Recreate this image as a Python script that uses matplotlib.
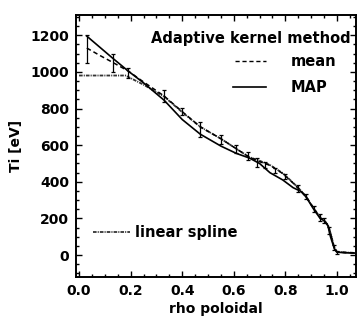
import matplotlib
matplotlib.use("Agg")
import matplotlib.pyplot as plt
from matplotlib.ticker import MultipleLocator

plt.rcParams['font.family'] = ['DejaVu Sans']
plt.rcParams['font.weight'] = 'bold'

# MAP (solid)
rho_map = [0.03, 0.08, 0.13, 0.19, 0.25, 0.33, 0.40, 0.47, 0.55, 0.61, 0.66, 0.70,
           0.74, 0.79, 0.83, 0.86, 0.88, 0.91, 0.935, 0.95, 0.965, 0.975, 0.99, 1.0, 1.03, 1.07]
ti_map = [1195, 1135, 1075, 1005, 940, 845, 740, 660, 595, 555, 530, 500,
          450, 410, 368, 348, 318, 250, 200, 188, 160, 100, 35, 16, 13, 11]

# mean (dashed)
rho_mean = rho_map
ti_mean = [1130, 1090, 1052, 1005, 945, 868, 783, 700, 635, 580, 535, 510,
           490, 445, 393, 350, 320, 255, 205, 190, 165, 120, 40, 18, 14, 12]

# error bars on mean
rho_err = [0.03, 0.13, 0.19, 0.33, 0.40, 0.47, 0.55, 0.61, 0.655, 0.69, 0.72, 0.76,
           0.80, 0.85, 0.88, 0.91, 0.935, 0.95, 0.97, 0.99, 1.0]
ti_err = [1125, 1050, 992, 868, 783, 685, 632, 578, 540, 505, 492, 462,
          430, 362, 320, 252, 206, 190, 135, 40, 16]
err = [75, 50, 28, 33, 18, 40, 23, 23, 20, 25, 14, 14,
       14, 18, 14, 18, 18, 14, 18, 14, 8]

# linear spline
rho_spl = [0.0, 0.18, 0.25, 0.33, 0.40, 0.47, 0.55, 0.61, 0.66, 0.70, 0.74, 0.79,
           0.83, 0.86, 0.88, 0.91, 0.935, 0.95, 0.965, 0.975, 0.99, 1.0, 1.07]
ti_spl = [980, 980, 930, 865, 780, 700, 635, 580, 535, 515, 492, 447,
          395, 352, 320, 255, 205, 190, 165, 120, 40, 18, 12]

xticks = [0.0, 0.2, 0.4, 0.6, 0.8, 1.0]
yticks = [0, 200, 400, 600, 800, 1000, 1200]

fig = plt.figure(figsize=(3.6, 3.2), dpi=100)
ax = fig.add_axes([0.211, 0.134, 0.778, 0.819])

spl_style = (0, (2, 0.6, 0.6, 0.6))
ax.plot(rho_spl, ti_spl, color='#333333', lw=1.3, ls=spl_style)
ax.plot(rho_mean, ti_mean, color='black', lw=1.1, ls=(0, (3, 2)))
ax.plot(rho_map, ti_map, color='black', lw=1.2, ls='-')
ax.errorbar(rho_err, ti_err, yerr=err, fmt='none', ecolor='black', elinewidth=0.9,
            capsize=1.6, capthick=0.9)

ax.set_xlim(-0.012, 1.074)
ax.set_ylim(-120, 1310)
ax.set_xticks(xticks)
ax.set_yticks(yticks)
ax.xaxis.set_minor_locator(MultipleLocator(0.05))
ax.yaxis.set_minor_locator(MultipleLocator(50))
ax.tick_params(which='both', direction='in', top=True, right=True, width=1.0)
ax.tick_params(which='major', length=4, labelsize=10, pad=5)
ax.tick_params(which='minor', length=2)
for s in ax.spines.values():
    s.set_linewidth(1.4)

ax.set_xlabel('rho poloidal', fontsize=10, fontweight='bold', labelpad=3)
ax.set_ylabel('Ti [eV]', fontsize=10, fontweight='bold', labelpad=5)

# legend-like annotations
ax.text(0.982, 0.912, 'Adaptive kernel method', transform=ax.transAxes,
        ha='right', va='center', fontsize=10.5, fontweight='bold')
ax.plot([0.568, 0.679], [0.824, 0.824], transform=ax.transAxes, color='black',
        lw=1.0, ls=(0, (3, 2)))
ax.text(0.768, 0.824, 'mean', transform=ax.transAxes, ha='left', va='center',
        fontsize=10.5, fontweight='bold')
ax.plot([0.561, 0.679], [0.725, 0.725], transform=ax.transAxes, color='black', lw=1.2)
ax.text(0.768, 0.725, 'MAP', transform=ax.transAxes, ha='left', va='center',
        fontsize=10.5, fontweight='bold')
ax.plot([0.061, 0.193], [0.172, 0.172], transform=ax.transAxes, color='#333333',
        lw=1.3, ls=spl_style)
ax.text(0.211, 0.172, 'linear spline', transform=ax.transAxes, ha='left', va='center',
        fontsize=10.5, fontweight='bold')

fig.savefig('out.png', dpi=100)
